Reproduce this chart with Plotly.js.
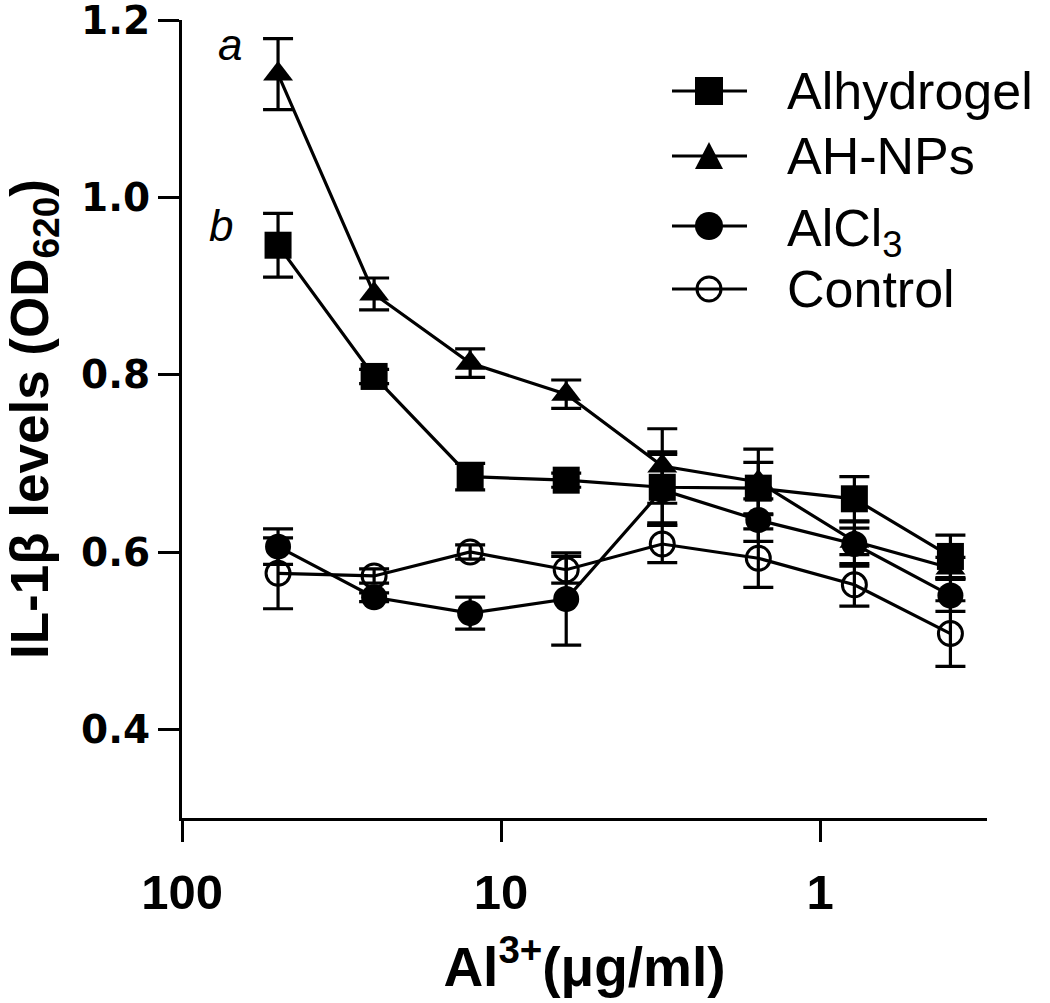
<!DOCTYPE html>
<html>
<head>
<meta charset="utf-8">
<script src="https://cdn.plot.ly/plotly-3.0.1.min.js"></script>
<style>
  html, body { margin: 0; padding: 0; background: #fff; }
  #chart { width: 1050px; height: 1003px; }
</style>
</head>
<body>
<div id="chart"></div>
<script>
// ---- data ----
const concentrations = [50, 25, 12.5, 6.25, 3.125, 1.5625, 0.78125, 0.390625]; // Al3+ µg/ml

const alhydrogel    = [0.946, 0.798, 0.685, 0.681, 0.673, 0.672, 0.660, 0.595];
const alhydrogelErr = [0.036, 0.008, 0.015, 0.008, 0.040, 0.029, 0.025, 0.024];

const ahNPs         = [1.139, 0.891, 0.813, 0.778, 0.697, 0.679, 0.612, 0.582];
const ahNPsErr      = [0.040, 0.018, 0.016, 0.016, 0.042, 0.037, 0.015, 0.012];

const alCl3         = [0.606, 0.549, 0.531, 0.547, 0.670, 0.636, 0.609, 0.551];
const alCl3Err      = [0.020, 0.005, 0.018, 0.052, 0.040, 0.024, 0.025, 0.018];

const control       = [0.576, 0.573, 0.600, 0.580, 0.609, 0.593, 0.563, 0.508];
const controlErr    = [0.040, 0.008, 0.008, 0.015, 0.021, 0.033, 0.024, 0.037];

const seriesNames = ['Alhydrogel', 'AH-NPs', 'AlCl<sub>3</sub>', 'Control'];
const letterLabels = ['a', 'b'];

const xTickVals = [100, 10, 1];
const xTickText = ['100', '10', '1'];
const yTickStart = 0.4, yTickStep = 0.2;   // y tick labels 0.4, 0.6, 0.8, 1.0, 1.2

// ---- styling / layout ----
const W = 1050, H = 1003;
const M = { l: 182, r: 63, t: 20, b: 185 };
const plotW = W - M.l - M.r, plotH = H - M.t - M.b;
const px2x = p => (p - M.l) / plotW;
const px2y = p => 1 - (p - M.t) / plotH;

const black = '#000000';
const symbols = { 'Alhydrogel': 'square', 'AH-NPs': 'triangle-up', 'AlCl<sub>3</sub>': 'circle', 'Control': 'circle-open' };
const sizes   = { 'square': 27, 'triangle-up': 26, 'circle': 26, 'circle-open': 24 };

function makeTrace(name, y, err) {
  const sym = symbols[name];
  return {
    type: 'scatter', mode: 'lines+markers', name: name,
    x: concentrations, y: y,
    error_y: { type: 'data', array: err, visible: true, color: black, thickness: 3.2, width: 15 },
    line: { color: black, width: 3.2 },
    marker: { symbol: sym, size: sizes[sym], color: black,
              line: { color: black, width: sym === 'circle-open' ? 3 : 0 } },
    showlegend: false, hoverinfo: 'skip'
  };
}

// drawing order: later traces on top
const data = [
  makeTrace(seriesNames[3], control, controlErr),
  makeTrace(seriesNames[1], ahNPs, ahNPsErr),
  makeTrace(seriesNames[2], alCl3, alCl3Err),
  makeTrace(seriesNames[0], alhydrogel, alhydrogelErr)
];

// ---- hand-made legend (keys in the top-right corner) ----
const legendRowsPx = [91, 156, 226, 289];
const legendTextShift = [0, 0, -6, 0];
const shapes = [], annotations = [];
const keyX0 = px2x(672), keyX1 = px2x(747), keyXc = px2x(709);
seriesNames.forEach((name, i) => {
  const yc = px2y(legendRowsPx[i]);
  shapes.push({ type: 'line', xref: 'paper', yref: 'paper', x0: keyX0, x1: keyX1, y0: yc, y1: yc,
                line: { color: black, width: 3.2 } });
  const base = { xref: 'paper', yref: 'paper', xsizemode: 'pixel', ysizemode: 'pixel',
                 xanchor: keyXc, yanchor: yc };
  const sym = symbols[name];
  if (sym === 'square') {
    shapes.push(Object.assign({}, base, { type: 'rect', x0: -14, x1: 14, y0: -14, y1: 14,
      fillcolor: black, line: { width: 0 } }));
  } else if (sym === 'triangle-up') {
    shapes.push(Object.assign({}, base, { type: 'path', path: 'M-14,-13 L14,-13 L0,14 Z',
      fillcolor: black, line: { width: 0 } }));
  } else if (sym === 'circle') {
    shapes.push(Object.assign({}, base, { type: 'circle', x0: -14, x1: 14, y0: -14, y1: 14,
      fillcolor: black, line: { width: 0 } }));
  } else {
    shapes.push(Object.assign({}, base, { type: 'circle', x0: -12, x1: 12, y0: -12, y1: 12,
      fillcolor: 'rgba(0,0,0,0)', line: { color: black, width: 3 } }));
  }
  annotations.push({ xref: 'paper', yref: 'paper', x: px2x(785), y: yc, xanchor: 'left', yanchor: 'middle',
    yshift: legendTextShift[i], text: name, showarrow: false,
    font: { family: 'Liberation Sans, Arial, sans-serif', size: 52, color: black } });
});

// significance letters
const letterPos = [[230, 45], [221, 225]];
letterLabels.forEach((t, i) => {
  annotations.push({ xref: 'paper', yref: 'paper', x: px2x(letterPos[i][0]), y: px2y(letterPos[i][1]),
    xanchor: 'center', yanchor: 'middle', text: t, showarrow: false,
    font: { family: 'Liberation Sans, Arial, sans-serif', size: 44, style: 'italic', color: black } });
});

const layout = {
  width: W, height: H, margin: M,
  paper_bgcolor: '#ffffff', plot_bgcolor: '#ffffff',
  showlegend: false, hovermode: false,
  xaxis: {
    type: 'log', range: [2, Math.log10(0.3)], autorange: false,
    tickmode: 'array', tickvals: xTickVals, ticktext: xTickText,
    showgrid: false, zeroline: false, showline: true, linecolor: black, linewidth: 3,
    ticks: 'outside', ticklen: 21, tickwidth: 3, tickcolor: black,
    ticklabelstandoff: 8, ticklabeloverflow: 'allow',
    tickfont: { family: 'Liberation Sans, Arial, sans-serif', size: 49, weight: 'bold', color: black },
    title: { text: 'Al<sup>3+</sup>(μg/ml)', standoff: 30,
             font: { family: 'Liberation Sans, Arial, sans-serif', size: 55, weight: 'bold', color: black } }
  },
  yaxis: {
    range: [0.3, 1.2], autorange: false,
    tickmode: 'linear', tick0: yTickStart, dtick: yTickStep, tickformat: '.1f',
    showgrid: false, zeroline: false, showline: true, linecolor: black, linewidth: 3,
    ticks: 'outside', ticklen: 21, tickwidth: 3, tickcolor: black,
    ticklabeloverflow: 'allow',
    tickfont: { family: 'DejaVu Sans, sans-serif', size: 39, weight: 'bold', color: black },
    title: { text: 'IL-1β levels (OD<sub>620</sub>)', standoff: 28,
             font: { family: 'Liberation Sans, Arial, sans-serif', size: 53, weight: 'bold', color: black } }
  },
  shapes: shapes,
  annotations: annotations
};

Plotly.newPlot('chart', data, layout, { displayModeBar: false, staticPlot: true }).then(() => {
  // make sure every y tick label stays visible
  document.querySelectorAll('.ytick text').forEach(t => {
    t.getBBox();
    t.removeAttribute('display');
    t.style.opacity = 1;
  });
});
</script>
</body>
</html>
